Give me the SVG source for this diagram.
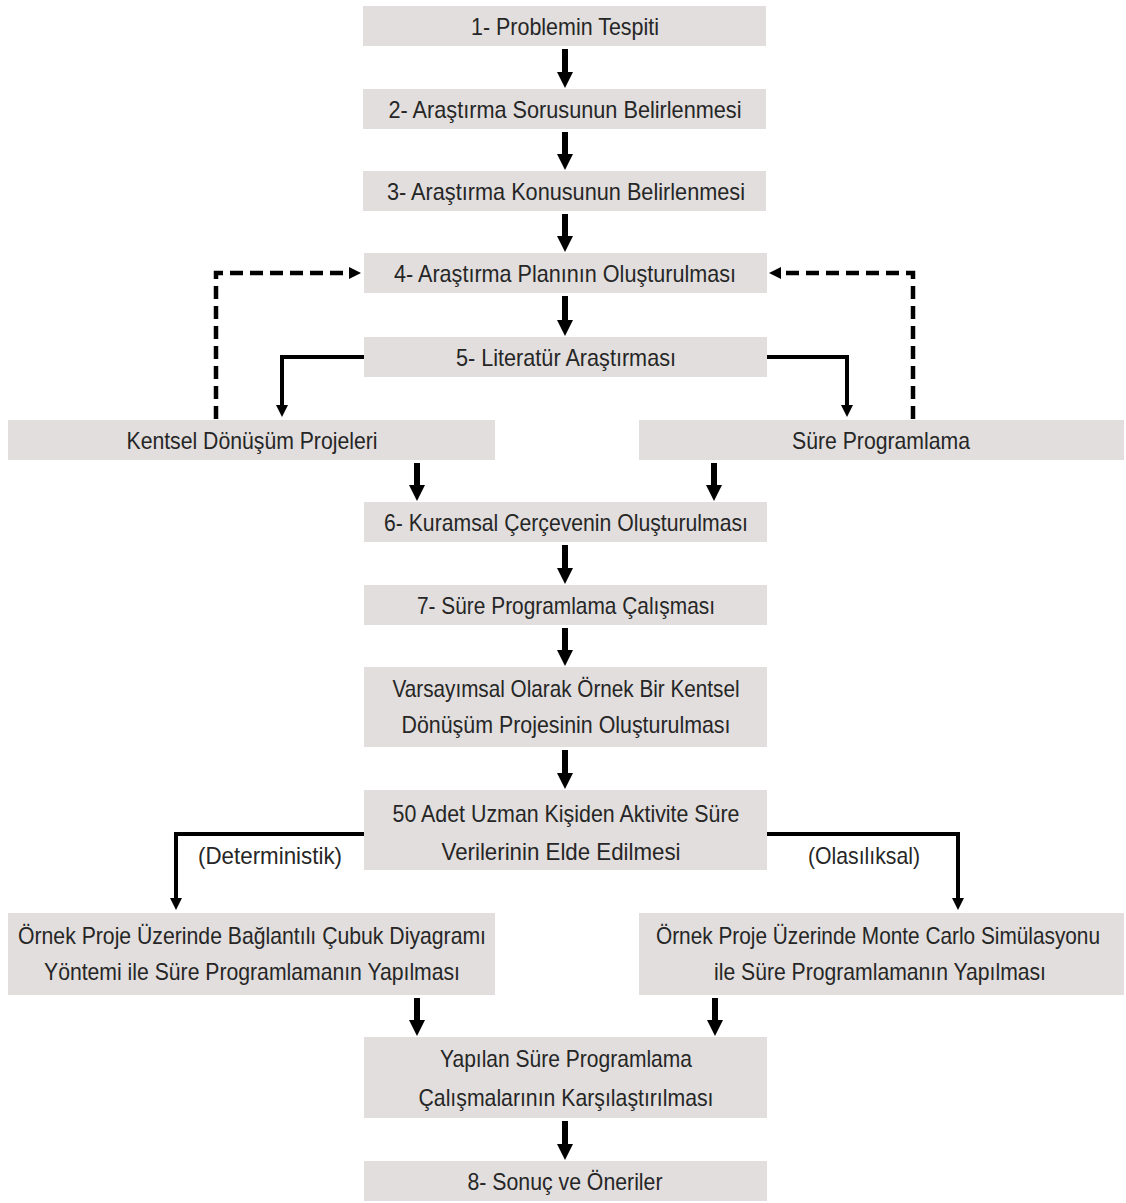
<svg xmlns="http://www.w3.org/2000/svg" width="1126" height="1203" viewBox="0 0 1126 1203">
<style>
.box{fill:#e1dedd}
.t{font-family:"Liberation Sans",Arial,sans-serif;font-size:24px;fill:#262626;text-anchor:middle}
.main{stroke:#000;stroke-width:6;fill:none}
.bend{stroke:#000;stroke-width:4;fill:none}
.dash{stroke:#000;stroke-width:4.5;fill:none;stroke-dasharray:13 7}
</style>
<defs>
<marker id="big" markerUnits="userSpaceOnUse" viewBox="0 0 16 16" refX="5" refY="8" markerWidth="16" markerHeight="16" orient="auto">
<path d="M0,0 L16,8 L0,16 z" fill="#000"/>
</marker>
<marker id="small" markerUnits="userSpaceOnUse" viewBox="0 0 12 12" refX="4" refY="6" markerWidth="12" markerHeight="12" orient="auto">
<path d="M0,0 L12,6 L0,12 z" fill="#000"/>
</marker>
</defs>
<rect width="1126" height="1203" fill="#fff"/>
<g id="connectors">
<path class="main" d="M565,49 V77" marker-end="url(#big)"/>
<path class="main" d="M565,132 V159" marker-end="url(#big)"/>
<path class="main" d="M565,214 V241" marker-end="url(#big)"/>
<path class="main" d="M565,296 V325" marker-end="url(#big)"/>
<path class="bend" d="M364,357 H282 V409" marker-end="url(#small)"/>
<path class="bend" d="M766,357 H847 V409" marker-end="url(#small)"/>
<path class="dash" d="M216,419 V273 H353" marker-end="url(#small)"/>
<path class="dash" d="M913,419 V273 H777" marker-end="url(#small)"/>
<path class="main" d="M417,463 V490" marker-end="url(#big)"/>
<path class="main" d="M714,463 V490" marker-end="url(#big)"/>
<path class="main" d="M565,545 V573" marker-end="url(#big)"/>
<path class="main" d="M565,628 V655" marker-end="url(#big)"/>
<path class="main" d="M565,750 V778" marker-end="url(#big)"/>
<path class="bend" d="M364,834 H176 V902" marker-end="url(#small)"/>
<path class="bend" d="M766,834 H958 V902" marker-end="url(#small)"/>
<path class="main" d="M417,998 V1025" marker-end="url(#big)"/>
<path class="main" d="M715,998 V1025" marker-end="url(#big)"/>
<path class="main" d="M565,1121 V1149" marker-end="url(#big)"/>
<text class="t" x="270" y="864" textLength="144" lengthAdjust="spacingAndGlyphs">(Deterministik)</text>
<text class="t" x="864" y="864" textLength="112" lengthAdjust="spacingAndGlyphs">(Olasılıksal)</text>
</g>
<g id="n1"><rect class="box" x="363" y="6" width="403" height="40"/><text class="t" x="565" y="35" textLength="188" lengthAdjust="spacingAndGlyphs">1- Problemin Tespiti</text></g>
<g id="n2"><rect class="box" x="363" y="89" width="403" height="40"/><text class="t" x="565" y="118" textLength="353" lengthAdjust="spacingAndGlyphs">2- Araştırma Sorusunun Belirlenmesi</text></g>
<g id="n3"><rect class="box" x="363" y="171" width="403" height="40"/><text class="t" x="566" y="200" textLength="358" lengthAdjust="spacingAndGlyphs">3- Araştırma Konusunun Belirlenmesi</text></g>
<g id="n4"><rect class="box" x="364" y="253" width="403" height="40"/><text class="t" x="565" y="282" textLength="342" lengthAdjust="spacingAndGlyphs">4- Araştırma Planının Oluşturulması</text></g>
<g id="n5"><rect class="box" x="364" y="337" width="403" height="40"/><text class="t" x="566" y="366" textLength="220" lengthAdjust="spacingAndGlyphs">5- Literatür Araştırması</text></g>
<g id="kentsel"><rect class="box" x="8" y="420" width="487" height="40"/><text class="t" x="252" y="449" textLength="251" lengthAdjust="spacingAndGlyphs">Kentsel Dönüşüm Projeleri</text></g>
<g id="sure"><rect class="box" x="639" y="420" width="485" height="40"/><text class="t" x="881" y="449" textLength="178" lengthAdjust="spacingAndGlyphs">Süre Programlama</text></g>
<g id="n6"><rect class="box" x="364" y="502" width="403" height="40"/><text class="t" x="566" y="531" textLength="364" lengthAdjust="spacingAndGlyphs">6- Kuramsal Çerçevenin Oluşturulması</text></g>
<g id="n7"><rect class="box" x="364" y="585" width="403" height="40"/><text class="t" x="566" y="614" textLength="298" lengthAdjust="spacingAndGlyphs">7- Süre Programlama Çalışması</text></g>
<g id="varsayimsal"><rect class="box" x="364" y="667" width="403" height="80"/><text class="t" x="566" y="697" textLength="347" lengthAdjust="spacingAndGlyphs">Varsayımsal Olarak Örnek Bir Kentsel</text><text class="t" x="566" y="733" textLength="329" lengthAdjust="spacingAndGlyphs">Dönüşüm Projesinin Oluşturulması</text></g>
<g id="uzman"><rect class="box" x="364" y="790" width="403" height="80"/><text class="t" x="566" y="822" textLength="347" lengthAdjust="spacingAndGlyphs">50 Adet Uzman Kişiden Aktivite Süre</text><text class="t" x="561" y="860" textLength="239" lengthAdjust="spacingAndGlyphs">Verilerinin Elde Edilmesi</text></g>
<g id="deterministik"><rect class="box" x="8" y="913" width="487" height="82"/><text class="t" x="252" y="944" textLength="468" lengthAdjust="spacingAndGlyphs">Örnek Proje Üzerinde Bağlantılı Çubuk Diyagramı</text><text class="t" x="252" y="980" textLength="416" lengthAdjust="spacingAndGlyphs">Yöntemi ile Süre Programlamanın Yapılması</text></g>
<g id="montecarlo"><rect class="box" x="639" y="913" width="485" height="82"/><text class="t" x="878" y="944" textLength="444" lengthAdjust="spacingAndGlyphs">Örnek Proje Üzerinde Monte Carlo Simülasyonu</text><text class="t" x="880" y="980" textLength="332" lengthAdjust="spacingAndGlyphs">ile Süre Programlamanın Yapılması</text></g>
<g id="yapilan"><rect class="box" x="364" y="1037" width="403" height="81"/><text class="t" x="566" y="1067" textLength="252" lengthAdjust="spacingAndGlyphs">Yapılan Süre Programlama</text><text class="t" x="566" y="1106" textLength="295" lengthAdjust="spacingAndGlyphs">Çalışmalarının Karşılaştırılması</text></g>
<g id="n8"><rect class="box" x="364" y="1161" width="403" height="40"/><text class="t" x="565" y="1190" textLength="195" lengthAdjust="spacingAndGlyphs">8- Sonuç ve Öneriler</text></g>
</svg>
